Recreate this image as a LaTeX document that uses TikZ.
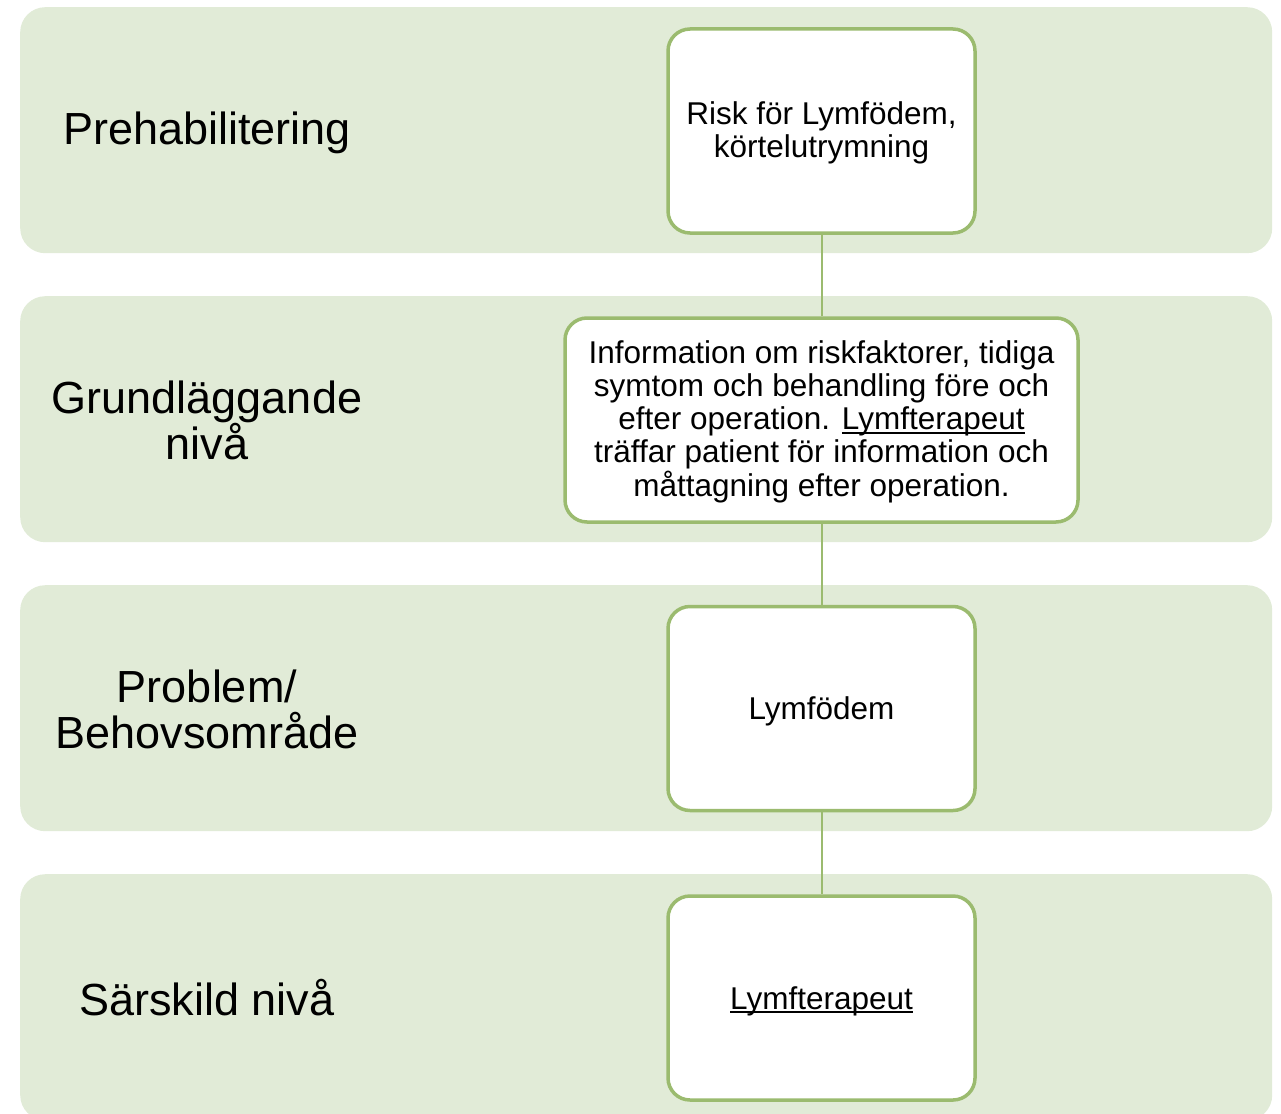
\documentclass[tikz,border=0pt]{standalone}
\usepackage{fontspec}
\setmainfont{Liberation Sans}
\definecolor{bandfill}{RGB}{225,235,215}
\definecolor{boxline}{RGB}{155,187,111}
% underline that sits just below the baseline, through the descenders
\newcommand\ulword[1]{\setbox0\hbox{#1}\rlap{\rule[-4pt]{\wd0}{2pt}}\box0}
\begin{document}
\begin{tikzpicture}[x=1pt,y=-1pt,
  band/.style={draw=none,fill=bandfill,rounded corners=25pt,minimum width=1252pt,
    minimum height=246pt,anchor=north west,inner sep=0pt},
  level/.style={align=center,font=\fontsize{45}{46}\selectfont},
  stepbox/.style={draw=boxline,line width=3.5pt,fill=white,rounded corners=22pt,
    minimum height=204pt,inner sep=0pt},
  boxtext/.style={align=center,inner sep=0pt,font=\fontsize{31.5}{33.2}\selectfont},
  link/.style={draw=boxline,line width=2pt}]
\useasboundingbox (0,0) rectangle (1281,1113);
% background rows
\node[band] (b1) at (20,7) {};
\node[band] (b2) at (20,296) {};
\node[band] (b3) at (20,585) {};
\node[band] (b4) at (20,874) {};
% row titles
\node[level] (t1) at (207,133) {Prehabilitering};
\node[level] (t2) at (207,420) {Grundläggande\\nivå};
\node[level] (t3) at (207,709) {Problem/\\Behovsområde};
\node[level] (t4) at (207,998) {Särskild nivå};
% content boxes
\node[stepbox,minimum width=307pt] (c1) at (821.5,131) {};
\node[stepbox,minimum width=513pt] (c2) at (821.5,420) {};
\node[stepbox,minimum width=307pt] (c3) at (821.5,708.5) {};
\node[stepbox,minimum width=307pt] (c4) at (821.5,998) {};
\node[boxtext] (x1) at ([yshift=-2pt]c1.center) {Risk för Lymfödem,\\körtelutrymning};
\node[boxtext] (x2) at ([yshift=-1.5pt]c2.center) {Information om riskfaktorer, tidiga\\symtom och behandling före och\\efter operation. \ulword{Lymfterapeut}\\träffar patient för information och\\måttagning efter operation.};
\node[boxtext] (x3) at ([yshift=-3pt]c3.center) {Lymfödem};
\node[boxtext] (x4) at ([yshift=-3pt]c4.center) {\ulword{Lymfterapeut}};
% connectors
\draw[link] (c1.south) -- (c2.north);
\draw[link] (c2.south) -- (c3.north);
\draw[link] (c3.south) -- (c4.north);
\end{tikzpicture}
\end{document}
